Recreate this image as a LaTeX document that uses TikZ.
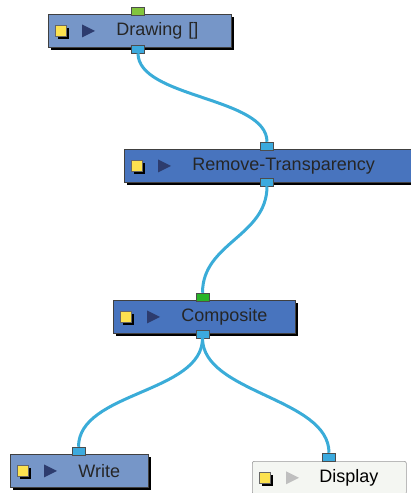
\documentclass[tikz,border=0pt]{standalone}
\usepackage{fontspec}
\setmainfont{Liberation Sans}
\usepackage{tikz}
\usetikzlibrary{positioning, calc, shadows}

\definecolor{fxlight}{RGB}{118,150,200}
\definecolor{fxdark}{RGB}{72,116,190}
\definecolor{fxoffwhite}{RGB}{244,246,242}
\definecolor{wirecol}{RGB}{58,172,216}
\definecolor{portblue}{RGB}{60,170,222}
\definecolor{portlime}{RGB}{130,196,60}
\definecolor{portgreen}{RGB}{40,180,40}
\definecolor{padyellow}{RGB}{252,226,80}
\definecolor{playnavy}{RGB}{45,60,110}

% yellow pad and play arrow at the left of a module
\newcommand\fxicons[2]{%
  \fill[black] ($(#1.west)+(10,-2.5)$) rectangle +(11,11);
  \filldraw[draw=black!60, fill=padyellow] ($(#1.west)+(7,-5.5)$) rectangle +(11,11);
  \fill[#2] ($(#1.west)+(34,-6.5)$) -- ++(0,13) -- ++(13,-6.5) -- cycle;
}

\begin{document}
\begin{tikzpicture}[x=1pt, y=-1pt,
    fx/.style={draw=black!75, line width=0.8pt, fill=#1, anchor=north west,
      minimum height=33, inner sep=0pt, align=left, text=black!85,
      font=\fontsize{18}{20}\selectfont,
      drop shadow={shadow xshift=3pt, shadow yshift=-3pt, opacity=1, fill=black}},
    fxoff/.style={draw=black!40, line width=0.6pt, fill=fxoffwhite, anchor=north west,
      rounded corners=2pt, minimum height=33, inner sep=0pt, align=left, text=black,
      font=\fontsize{18}{20}\selectfont},
    port/.style={draw=black!70, line width=0.5pt, fill=#1, minimum width=13,
      minimum height=8, inner sep=0pt},
    wire/.style={wirecol, line width=3pt}]
  \useasboundingbox (0,0) rectangle (411,493);
  \clip (0,0) rectangle (411,493);

  \node[fx=fxlight, text width=183pt] (drawing) at (48,14) {\hspace*{68pt}Drawing []};
  \node[fx=fxdark, text width=300pt] (remove) at (124,149) {\hspace*{68pt}Remove-Transparency};
  \node[fx=fxdark, text width=182pt] (composite) at (113,300) {\hspace*{68pt}Composite};
  \node[fx=fxlight, text width=138pt] (write) at (10,454) {\hspace*{68pt}Write};
  \node[fxoff, text width=154pt] (display) at (252,461) {\hspace*{67pt}Display};

  \fxicons{drawing}{playnavy}
  \fxicons{remove}{playnavy}
  \fxicons{composite}{playnavy}
  \fxicons{write}{playnavy}
  \fxicons{display}{black!25}

  % ports
  \node[port=portlime] (drawing-in) at (138,11) {};
  \node[port=portblue] (drawing-out) at (138,49) {};
  \node[port=portblue] (remove-in) at (267,146) {};
  \node[port=portblue] (remove-out) at (267,182) {};
  \node[port=portgreen] (composite-in) at (202.5,297) {};
  \node[port=portblue] (composite-out) at (202.5,334) {};
  \node[port=portblue] (write-in) at (78.5,451) {};
  \node[port=portblue] (display-in) at (329,457) {};

  \draw[wire] (drawing-out.south) .. controls +(0,45) and +(0,-45) .. (remove-in.north);
  \draw[wire] (remove-out.south) .. controls +(0,50) and +(0,-50) .. (composite-in.north);
  \draw[wire] (composite-out.south) .. controls +(0,55) and +(0,-55) .. (write-in.north);
  \draw[wire] (composite-out.south) .. controls +(0,55) and +(0,-55) .. (display-in.north);
\end{tikzpicture}
\end{document}
